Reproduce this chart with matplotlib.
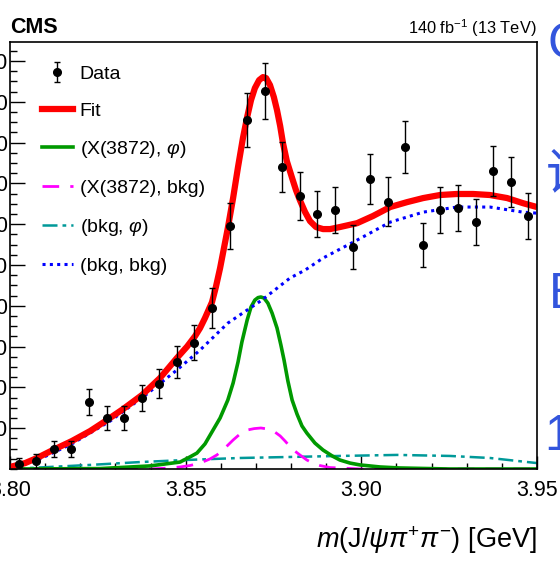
import numpy as np
import matplotlib
matplotlib.use("Agg")
import matplotlib.pyplot as plt
from matplotlib.ticker import MultipleLocator, FixedLocator, FixedFormatter
from matplotlib.lines import Line2D

plt.rcParams['font.family'] = ['Liberation Sans', 'DejaVu Sans']
plt.rcParams['mathtext.fontset'] = 'custom'
plt.rcParams['mathtext.rm'] = 'Liberation Sans'
plt.rcParams['mathtext.it'] = 'Liberation Sans:italic'
plt.rcParams['mathtext.bf'] = 'Liberation Sans:bold'

# data points (bin centres, events / 5 MeV, errors)
mass = [3.8025, 3.8075, 3.8125, 3.8175, 3.8225, 3.8275, 3.8325, 3.8375, 3.8425, 3.8475,
        3.8525, 3.8575, 3.8625, 3.8675, 3.8725, 3.8775, 3.8825, 3.8875, 3.8925, 3.8975,
        3.9025, 3.9075, 3.9125, 3.9175, 3.9225, 3.9275, 3.9325, 3.9375, 3.9425, 3.9475]
counts = [2.5, 3.9, 9.8, 9.8, 32.8, 25.0, 25.0, 34.8, 41.7, 52.5,
          61.8, 78.9, 119.1, 171.1, 185.3, 148.0, 133.8, 125.0, 127.0, 108.8,
          142.2, 130.9, 157.8, 109.8, 127.0, 128.0, 121.1, 146.1, 140.7, 124.0]
errors = [3.0, 3.4, 4.0, 4.0, 6.5, 5.7, 5.7, 6.6, 7.1, 8.0,
          8.6, 9.6, 11.3, 13.1, 13.7, 12.2, 11.8, 11.3, 11.3, 10.6,
          12.2, 12.0, 12.8, 10.6, 11.4, 11.4, 11.1, 12.1, 12.1, 11.3]

# curves
fit_m = [3.8000, 3.8043, 3.8077, 3.8122, 3.8176, 3.8228, 3.8276, 3.8322, 3.8376, 3.8427,
         3.8475, 3.8504, 3.8527, 3.8541, 3.8555, 3.8575, 3.8586, 3.8598, 3.8609, 3.8620,
         3.8635, 3.8649, 3.8663, 3.8675, 3.8686, 3.8697, 3.8709, 3.8720, 3.8729, 3.8740,
         3.8751, 3.8760, 3.8769, 3.8777, 3.8788, 3.8803, 3.8814, 3.8825, 3.8840, 3.8854,
         3.8871, 3.8891, 3.8911, 3.8939, 3.8988, 3.9033, 3.9082, 3.9130, 3.9176, 3.9224,
         3.9272, 3.9318, 3.9366, 3.9415, 3.9460, 3.9500]
fit_y = [1.0, 2.9, 5.4, 9.3, 13.7, 18.6, 24.0, 29.4, 36.3, 44.6,
         54.4, 60.0, 65.2, 69.1, 74.0, 81.8, 89.2, 98.5, 108.3, 118.1,
         132.8, 148.0, 162.2, 172.5, 180.8, 186.7, 190.6, 192.1, 191.6, 188.2,
         182.3, 175.9, 168.1, 159.7, 150.9, 142.6, 136.7, 131.8, 125.9, 121.5,
         118.6, 117.6, 117.6, 118.6, 120.5, 124.0, 128.4, 130.8, 132.8, 134.3,
         134.8, 134.8, 134.3, 132.8, 130.3, 128.4]

sig_m = [3.8000, 3.8256, 3.8398, 3.8484, 3.8512, 3.8532, 3.8555, 3.8578, 3.8598, 3.8620,
         3.8635, 3.8649, 3.8660, 3.8675, 3.8686, 3.8697, 3.8706, 3.8714, 3.8723, 3.8734,
         3.8746, 3.8760, 3.8771, 3.8780, 3.8791, 3.8803, 3.8817, 3.8831, 3.8845, 3.8868,
         3.8891, 3.8917, 3.8939, 3.8968, 3.8996, 3.9053, 3.9110, 3.9252, 3.9500]
sig_y = [0.0, 0.2, 1.5, 3.4, 5.9, 7.8, 12.3, 19.1, 25.0, 33.8,
         42.1, 52.4, 62.2, 73.0, 79.4, 82.8, 84.0, 84.3, 83.8, 81.3,
         76.4, 69.1, 60.8, 53.4, 43.1, 33.8, 26.9, 21.1, 17.6, 12.7,
         9.3, 6.4, 4.4, 2.9, 2.0, 1.0, 0.5, 0.0, 0.0]

xbkg_m = [3.8000, 3.8398, 3.8455, 3.8484, 3.8512, 3.8541, 3.8569, 3.8589, 3.8612, 3.8635,
          3.8655, 3.8675, 3.8695, 3.8714, 3.8734, 3.8754, 3.8769, 3.8783, 3.8803, 3.8825,
          3.8845, 3.8862, 3.8882, 3.8911, 3.8939, 3.8996, 3.9500]
xbkg_y = [0.0, 0.0, 0.5, 1.0, 1.7, 2.9, 4.9, 6.9, 10.3, 14.2,
          17.2, 19.1, 19.8, 20.1, 19.6, 18.1, 16.2, 13.7, 9.8, 6.9,
          4.4, 2.9, 1.7, 0.7, 0.5, 0.0, 0.0]

bphi_m = [3.8000, 3.8114, 3.8228, 3.8370, 3.8498, 3.8655, 3.8797, 3.8939, 3.9102, 3.9252,
          3.9366, 3.9500]
bphi_y = [0.0, 1.0, 2.0, 3.4, 4.4, 5.4, 5.9, 6.4, 6.9, 6.4, 5.4, 2.9]

bb_m = [3.8000, 3.8085, 3.8176, 3.8285, 3.8379, 3.8475, 3.8541, 3.8620, 3.8717, 3.8797,
        3.8840, 3.8891, 3.8988, 3.9082, 3.9176, 3.9272, 3.9366, 3.9460, 3.9500]
bb_y = [0.5, 4.9, 12.3, 23.5, 35.3, 48.5, 58.3, 71.5, 82.8, 93.6,
        97.5, 103.4, 112.2, 121.0, 125.9, 128.4, 128.4, 125.9, 125.4]

x_ticks = [3.80, 3.85, 3.90, 3.95]
x_labels = ["3.80", "3.85", "3.90", "3.95"]
y_ticks = [20, 40, 60, 80, 100, 120, 140, 160, 180, 200]

fig = plt.figure(figsize=(5.6, 5.61), dpi=100)
ax = fig.add_axes([10/560, 92/561, 527/560, 427/561])

ax.plot(bphi_m, bphi_y, color="#009999", lw=1.8, linestyle=(0, (6, 2, 1.5, 2)))
ax.plot(xbkg_m, xbkg_y, color="#ff00ff", lw=2.0, linestyle=(0, (6, 4)))
ax.plot(sig_m, sig_y, color="#009900", lw=2.6)
ax.plot(bb_m, bb_y, color="#0000ff", lw=2.2, linestyle=(0, (1, 1.4)))
ax.plot(fit_m, fit_y, color="#ff0000", lw=4.5, solid_capstyle="butt")
data = ax.errorbar(mass, counts, yerr=errors, fmt="o", color="black", ms=5.5,
                   elinewidth=1.0, capsize=2, capthick=1.0)

ax.set_xlim(3.80, 3.95)
ax.set_ylim(0, 209.3)
ax.xaxis.set_major_locator(FixedLocator(x_ticks))
ax.xaxis.set_major_formatter(FixedFormatter(x_labels))
ax.xaxis.set_minor_locator(MultipleLocator(0.01))
ax.yaxis.set_major_locator(FixedLocator(y_ticks))
ax.yaxis.set_minor_locator(MultipleLocator(5))
ax.tick_params(which="both", direction="in", top=False, right=False, width=1.0)
ax.tick_params(axis="x", which="major", length=9.5, labelsize=15.5, pad=8)
ax.tick_params(axis="x", which="minor", length=4.5)
ax.tick_params(axis="y", which="major", length=10.8, labelsize=15.5, pad=1.5)
ax.tick_params(axis="y", which="minor", length=4.8)
for s in ax.spines.values():
    s.set_linewidth(1.2)

handles = [data,
           Line2D([], [], color="#ff0000", lw=4.5),
           Line2D([], [], color="#009900", lw=2.6),
           Line2D([], [], color="#ff00ff", lw=2.0, linestyle=(0, (6, 4))),
           Line2D([], [], color="#009999", lw=1.8, linestyle=(0, (6, 2, 1.5, 2))),
           Line2D([], [], color="#0000ff", lw=2.2, linestyle=(0, (1, 1.4)))]
labels = ["Data", "Fit", r"(X(3872), $\varphi$)", "(X(3872), bkg)", r"(bkg, $\varphi$)", "(bkg, bkg)"]
ax.legend(handles, labels, loc="upper left", bbox_to_anchor=(0.060, 0.946), frameon=False,
          fontsize=14, handlelength=1.6, handletextpad=0.36, labelspacing=1.0,
          borderpad=0, borderaxespad=0)

fig.text(10/560, (561-33)/561, "CMS", weight="bold", size=15.5, va="baseline")
fig.text(537/560, (561-34)/561, r"140 fb$^{-1}$ (13 TeV)", size=11.8, ha="right", va="baseline")
fig.text(537/560, (561-548)/561, r"$m$(J/$\psi\pi^{+}\pi^{-}$) [GeV]", size=19.5, ha="right", va="baseline")

# cut-off page text at the right edge
blue = "#3355dd"
fig.text(547/560, 1 - 45/561, "C", size=36, color=blue, va="center", family=["Liberation Sans", "DejaVu Sans"])
fig.text(546/560, 1 - 175/561, "说", size=36, color=blue, va="center", family=["Noto Sans CJK SC", "DejaVu Sans"])
fig.text(549/560, 1 - 295/561, "E", size=36, color=blue, va="center", family=["Liberation Sans", "DejaVu Sans"])
fig.text(544/560, 1 - 437/561, "1", size=36, color=blue, va="center", family=["Liberation Sans", "DejaVu Sans"])

fig.savefig("out.png", dpi=100)
